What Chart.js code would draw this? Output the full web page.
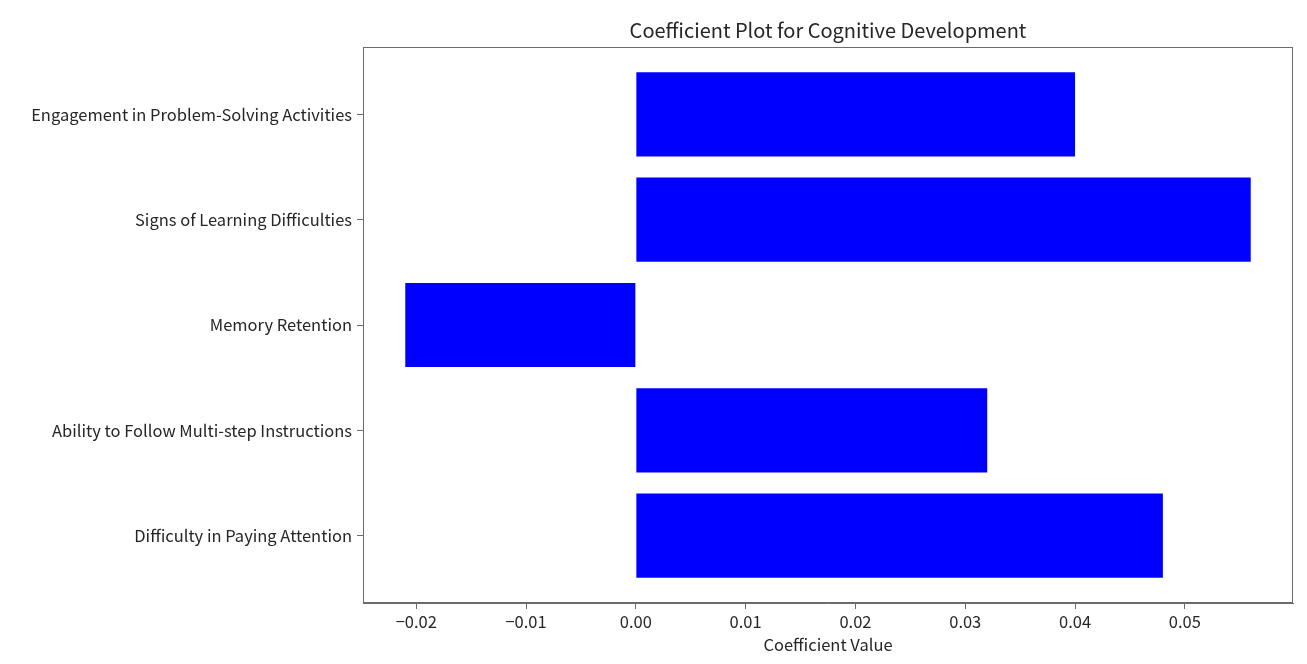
<!DOCTYPE html>
<html>
<head>
<meta charset="utf-8">
<title>Coefficient Plot for Cognitive Development</title>
<script src="https://cdn.jsdelivr.net/npm/chart.js@4"></script>
<style>
  html, body { margin: 0; padding: 0; background: #fff; }
  #wrap { width: 1307px; height: 664px; }
</style>
</head>
<body>
<div id="wrap"><canvas id="coef-chart" width="1307" height="664"></canvas></div>
<script>
// datos (de abajo hacia arriba, como en matplotlib)
const categories = [
    'Difficulty in Paying Attention',
    'Ability to Follow Multi-step Instructions',
    'Memory Retention',
    'Signs of Learning Difficulties',
    'Engagement in Problem-Solving Activities'
];
const coefficients = [0.048, 0.032, -0.021, 0.056, 0.040];
const xTickValues = [-0.02, -0.01, 0.00, 0.01, 0.02, 0.03, 0.04, 0.05];

const FONT = '"Noto Sans CJK SC", "Noto Sans", sans-serif';
Chart.defaults.font.family = FONT;
Chart.defaults.color = '#262626';

// margen del 5% como matplotlib
const dataMin = Math.min(0, ...coefficients);
const dataMax = Math.max(0, ...coefficients);
const span = dataMax - dataMin;
const xMin = dataMin - span * 0.05;
const xMax = dataMax + span * 0.05;
const yMin = -0.4 - 0.05 * (categories.length - 1 + 0.8);
const yMax = categories.length - 1 + 0.4 + 0.05 * (categories.length - 1 + 0.8);

// marco completo alrededor del area del grafico
const framePlugin = {
    id: 'frame',
    afterDraw(chart) {
        const { ctx, chartArea: a } = chart;
        ctx.save();
        ctx.strokeStyle = '#6b6b6b';
        ctx.lineWidth = 1;
        ctx.strokeRect(a.left + 0.5, a.top + 0.5, a.right - a.left - 1, a.bottom - a.top - 1);
        ctx.restore();
    }
};

const fmt = v => {
    if (Math.abs(v) < 1e-9) v = 0;
    return v.toFixed(2).replace('-', '\u2212');
};

new Chart(document.getElementById('coef-chart').getContext('2d'), {
    type: 'bar',
    data: {
        datasets: [{
            label: 'Coefficient',
            data: coefficients.map((c, i) => ({ x: c, y: i })),
            backgroundColor: '#0000ff',
            borderWidth: 0,
            categoryPercentage: 1,
            barPercentage: 0.8
        }]
    },
    options: {
        indexAxis: 'y',
        responsive: false,
        animation: false,
        layout: { padding: { left: 0, right: 14, top: 0, bottom: 0 } },
        plugins: {
            legend: { display: false },
            tooltip: { enabled: false },
            title: {
                display: true,
                fullSize: false,
                text: 'Coefficient Plot for Cognitive Development',
                font: { size: 20, weight: 'normal', family: FONT },
                color: '#262626',
                padding: { top: 18, bottom: 5 }
            }
        },
        scales: {
            x: {
                type: 'linear',
                min: xMin,
                max: xMax,
                afterBuildTicks: axis => { axis.ticks = xTickValues.map(v => ({ value: v })); },
                afterFit: axis => { axis.height = 61; },
                ticks: {
                    callback: v => fmt(v),
                    font: { size: 16.5 },
                    padding: 3,
                    maxRotation: 0
                },
                grid: { drawOnChartArea: false, drawTicks: true, tickLength: 6, color: '#6b6b6b' },
                border: { display: true, color: '#6b6b6b' },
                title: {
                    display: true,
                    text: 'Coefficient Value',
                    font: { size: 16.5 },
                    padding: { top: 0, bottom: 9 }
                }
            },
            y: {
                type: 'linear',
                min: yMin,
                max: yMax,
                offset: false,
                afterBuildTicks: axis => { axis.ticks = categories.map((_, i) => ({ value: i })); },
                afterFit: axis => { axis.width = 363; },
                ticks: {
                    callback: v => categories[v],
                    font: { size: 16.5 },
                    padding: 5
                },
                grid: { offset: false, drawOnChartArea: false, drawTicks: true, tickLength: 6, color: '#6b6b6b' },
                border: { display: true, color: '#6b6b6b' }
            }
        }
    },
    plugins: [framePlugin]
});
</script>
</body>
</html>
